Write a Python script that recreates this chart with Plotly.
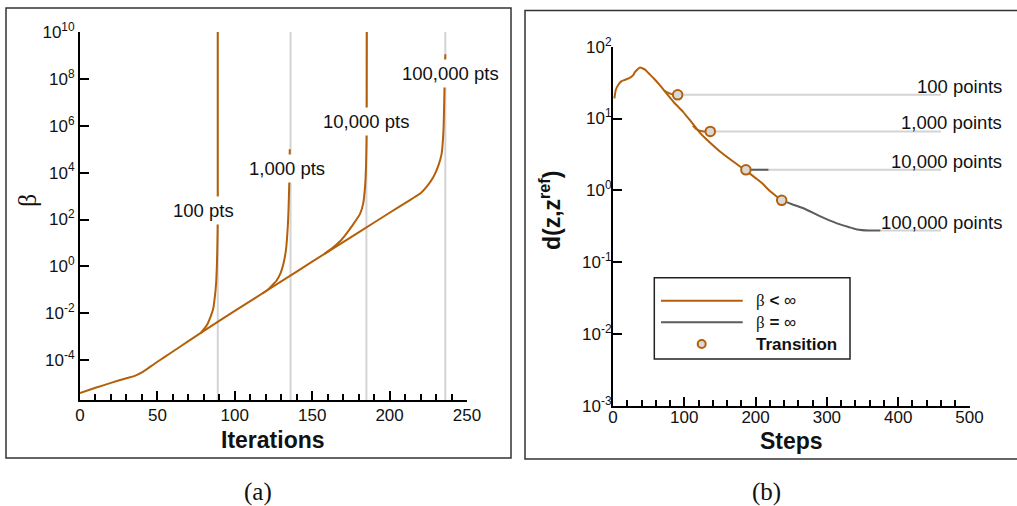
import numpy as np
import plotly.graph_objects as go

# ---------------- data: panel (a) ----------------
# trunk curve (continues into the 100,000 pts branch)
main_iter = [0, 10, 20, 30, 35, 40, 45, 50, 55, 60, 70, 80, 100, 120, 140, 160, 180, 200, 210,
             216, 220, 224, 228.2, 231.5, 233.6, 234.8, 235.5, 236]
main_log10_beta = [-5.40, -5.18, -4.97, -4.77, -4.68, -4.52, -4.30, -4.07, -3.85, -3.63, -3.19,
                   -2.75, -1.90, -1.06, -0.22, 0.62, 1.45, 2.29, 2.70, 2.95, 3.12, 3.40, 3.80,
                   4.30, 4.80, 5.80, 7.70, 9.05]
b100_iter = [78, 82, 84.5, 86.1, 87.1, 87.9, 88.5, 88.9, 89, 89]
b100_log10_beta = [-2.84, -2.50, -2.12, -1.80, -1.30, -0.74, 0.20, 1.50, 3.00, 10.0]
b1000_iter = [118, 122, 125, 127, 129.5, 131.4, 133, 134.3, 135.2, 135.5]
b1000_log10_beta = [-1.15, -0.95, -0.75, -0.60, -0.30, 0.11, 0.68, 1.80, 3.60, 5.00]
b10000_iter = [158, 163, 168, 172, 176, 180.9, 183, 184.1, 184.8, 185.2, 185.3]
b10000_log10_beta = [0.54, 0.78, 1.07, 1.39, 1.75, 2.24, 2.70, 3.37, 4.30, 5.65, 10.0]
transition_iters = [89, 136, 185, 236]
pts_labels = ["100 pts", "1,000 pts", "10,000 pts", "100,000 pts"]

# ---------------- data: panel (b) ----------------
finite_steps = [2, 4, 7.5, 12, 17, 24, 28, 31, 35, 38, 41, 45, 50, 57, 66, 75, 85, 98.6, 110, 122,
                131, 150, 170, 187, 200, 210, 220, 230, 236.6]
finite_log10_d = [1.28, 1.40, 1.47, 1.52, 1.54, 1.57, 1.60, 1.65, 1.69, 1.71, 1.70, 1.68, 1.63,
                  1.56, 1.46, 1.35, 1.23, 1.09, 0.95, 0.80, 0.71, 0.54, 0.39, 0.27, 0.17, 0.09,
                  -0.01, -0.09, -0.14]
f100_steps = [72, 77, 82, 86, 90.7]
f100_log10_d = [1.39, 1.36, 1.34, 1.33, 1.33]
f1000_steps = [112, 117, 122, 128, 136.4]
f1000_log10_d = [0.90, 0.85, 0.83, 0.82, 0.82]
inf10000_steps = [186.4, 218]
inf10000_log10_d = [0.285, 0.285]
inf100000_steps = [236.6, 250, 267, 290, 314, 330, 342, 360, 375]
inf100000_log10_d = [-0.14, -0.19, -0.25, -0.36, -0.46, -0.51, -0.545, -0.56, -0.56]
transition_steps = [90.7, 136.4, 186.4, 236.6]
transition_log10_d = [1.33, 0.82, 0.285, -0.14]
plateau_start = [90.7, 136.4, 186.4, 375]
plateau_log10_d = [1.33, 0.82, 0.285, -0.56]
plateau_end = 460
points_labels = ["100 points", "1,000 points", "10,000 points", "100,000 points"]

ORANGE = "#b4600a"
DARK = "#5c5c5c"
LIGHT = "#d3d3d3"
W, H = 1017, 506
SANS = "Liberation Sans, Arial, sans-serif"
SERIF = "Liberation Serif, Times New Roman, serif"


def px_x(p):
    return p / W


def px_y(p):
    return 1 - p / H


def tenpow(v):
    return list(np.power(10.0, np.array(v, dtype=float)))


fig = go.Figure()

# panel (a) gray vertical markers
shapes = []
for xi in transition_iters:
    shapes.append(dict(type="line", xref="x", yref="y domain", x0=xi, x1=xi, y0=0, y1=1,
                       line=dict(color=LIGHT, width=2), layer="below"))

for xs, ys in [(main_iter, main_log10_beta), (b100_iter, b100_log10_beta),
               (b1000_iter, b1000_log10_beta), (b10000_iter, b10000_log10_beta)]:
    fig.add_trace(go.Scatter(x=xs, y=tenpow(ys), mode="lines",
                             line=dict(color=ORANGE, width=2, shape="spline", smoothing=0.6),
                             xaxis="x", yaxis="y", showlegend=False, hoverinfo="skip"))

# panel (b) plateaus
for xs0, yv in zip(plateau_start, plateau_log10_d):
    fig.add_trace(go.Scatter(x=[xs0, plateau_end], y=tenpow([yv, yv]), mode="lines",
                             line=dict(color=LIGHT, width=2), xaxis="x2", yaxis="y2",
                             showlegend=False, hoverinfo="skip"))
for xs, ys, c in [(finite_steps, finite_log10_d, ORANGE), (f100_steps, f100_log10_d, ORANGE),
                  (f1000_steps, f1000_log10_d, ORANGE),
                  (inf10000_steps, inf10000_log10_d, DARK),
                  (inf100000_steps, inf100000_log10_d, DARK)]:
    fig.add_trace(go.Scatter(x=xs, y=tenpow(ys), mode="lines",
                             line=dict(color=c, width=2, shape="spline", smoothing=0.6),
                             xaxis="x2", yaxis="y2", showlegend=False, hoverinfo="skip"))
fig.add_trace(go.Scatter(x=transition_steps, y=tenpow(transition_log10_d), mode="markers",
                         marker=dict(size=9.5, color="#d9d9d9", line=dict(color=ORANGE, width=2)),
                         xaxis="x2", yaxis="y2", showlegend=False, hoverinfo="skip"))

annotations = []
# panel (a) labels
lab_pos_a = [(80.1, 2.38), (134.0, 4.17), (184.8, 6.17), (239.3, 8.21)]
for txt, (xa, ya) in zip(pts_labels, lab_pos_a):
    annotations.append(dict(text=txt, x=xa, y=ya, xref="x", yref="y", showarrow=False,
                            xanchor="center", yanchor="middle",
                            bgcolor="white", borderpad=3,
                            font=dict(family=SANS, size=18.5, color="#111")))
# panel (b) labels
for txt, yv in zip(points_labels, plateau_log10_d):
    annotations.append(dict(text=txt, x=px_x(1004), y=yv, xref="paper", yref="y2",
                            xanchor="right", yanchor="middle", yshift=8.5, showarrow=False,
                            font=dict(family=SANS, size=18.5, color="#111")))


def centered(text, xp, yp, size, family, angle=0):
    return dict(text=text, x=px_x(xp), y=px_y(yp), xref="paper", yref="paper",
                xanchor="center", yanchor="middle", textangle=angle, showarrow=False,
                font=dict(family=family, size=size, color="#111"))


# axis titles and captions
annotations += [
    centered("<b>Iterations</b>", 273, 440, 23, SANS),
    centered("<b>Steps</b>", 791, 441, 23, SANS),
    centered("β", 28, 201, 26, SERIF, -90),
    centered("<b>d(z,z<sup>ref</sup>)</b>", 550, 211, 23, SANS, -90),
    centered("(a)", 258, 492, 25, SERIF),
    centered("(b)", 766, 492, 25, SERIF),
]

# legend (manual)
shapes.append(dict(type="rect", xref="paper", yref="paper", x0=px_x(654.3), x1=px_x(850),
                   y0=px_y(359), y1=px_y(277.7), line=dict(color="#222", width=1.5),
                   fillcolor="white", layer="above"))
legend_items = ["<span style='font-family:Liberation Serif'>β</span> <b>&lt;</b> ∞",
                "<span style='font-family:Liberation Serif'>β</span> <b>=</b> ∞",
                "<b>Transition</b>"]
legend_y = [300.7, 322.3, 344]
for yy, c in zip(legend_y[:2], [ORANGE, DARK]):
    shapes.append(dict(type="line", xref="paper", yref="paper", x0=px_x(661), x1=px_x(742.7),
                       y0=px_y(yy), y1=px_y(yy), line=dict(color=c, width=2), layer="above"))
shapes.append(dict(type="circle", xref="paper", yref="paper", xsizemode="pixel",
                   ysizemode="pixel", xanchor=px_x(701.7), yanchor=px_y(344), x0=-4, x1=4,
                   y0=-4, y1=4, fillcolor="#d9d9d9", line=dict(color=ORANGE, width=2),
                   layer="above"))
for txt, yy in zip(legend_items, legend_y):
    annotations.append(dict(text=txt, x=px_x(754), y=px_y(yy), xref="paper", yref="paper",
                            xanchor="left", yanchor="middle", showarrow=False,
                            font=dict(family=SANS, size=17, color="#111")))

# frames
shapes.append(dict(type="rect", xref="paper", yref="paper", x0=px_x(6), x1=px_x(511),
                   y0=px_y(458), y1=px_y(8), line=dict(color="#333", width=1.5)))
shapes.append(dict(type="rect", xref="paper", yref="paper", x0=px_x(525), x1=px_x(1019),
                   y0=px_y(459), y1=px_y(10.5), line=dict(color="#333", width=1.5)))

tick_font = dict(family=SANS, size=17, color="#111")


def sup_labels(exps):
    return ["10<sup>%d</sup>" % e for e in exps]


exps_a = [-4, -2, 0, 2, 4, 6, 8, 10]
exps_b = [-3, -2, -1, 0, 1, 2]

axis_common = dict(showline=True, linecolor="black", linewidth=2, ticks="inside",
                   tickcolor="black", tickwidth=2, ticklen=9, showgrid=False, zeroline=False,
                   tickfont=tick_font, automargin=False)

fig.update_layout(
    width=W, height=H, margin=dict(l=0, r=0, t=0, b=0, autoexpand=False),
    paper_bgcolor="white", plot_bgcolor="rgba(0,0,0,0)",
    xaxis=dict(domain=[px_x(80), px_x(467)], range=[0, 250], anchor="y", tickvals=[0, 50, 100, 150, 200, 250],
               minor=dict(dtick=10, ticks="inside", ticklen=6, tickcolor="black", tickwidth=1.5),
               ticklabelstandoff=-1, **axis_common),
    yaxis=dict(domain=[px_y(400), px_y(32)], type="log", range=[-5.7, 10], anchor="x",
               tickvals=tenpow(exps_a), ticktext=sup_labels(exps_a), ticklabelstandoff=0,
               **axis_common),
    xaxis2=dict(domain=[px_x(613), px_x(969.5)], range=[0, 500], anchor="y2",
                tickvals=[0, 100, 200, 300, 400, 500],
                minor=dict(dtick=20, ticks="inside", ticklen=6, tickcolor="black", tickwidth=1.5),
                ticklabelstandoff=-5, **axis_common),
    yaxis2=dict(domain=[px_y(405.7), px_y(46.7)], type="log", range=[-3, 2], anchor="x2",
                tickvals=tenpow(exps_b), ticktext=sup_labels(exps_b), ticklabelstandoff=-4,
                **axis_common),
    shapes=shapes, annotations=annotations,
)

fig.write_html(
    "out.html",
    config={"displayModeBar": False},
    post_script=("document.documentElement.style.margin='0';"
                 "document.body.style.margin='0';document.body.style.padding='0';"
                 "document.body.style.overflow='hidden';"
                 "document.documentElement.style.overflow='hidden';"),
)
